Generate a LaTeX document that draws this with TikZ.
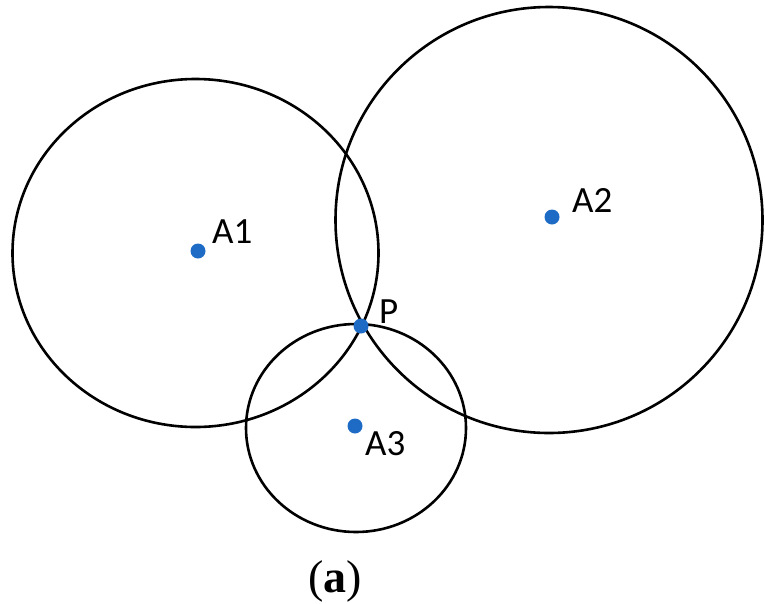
\documentclass[tikz,border=0pt]{standalone}
\usepackage{fontspec}
\setmainfont{Carlito}
\newfontfamily\capfont{Liberation Serif}
\definecolor{dotblue}{RGB}{30,107,198}
\begin{document}
\begin{tikzpicture}[x=1pt,y=-1pt,
  ring/.style={draw=black,line width=2.6pt},
  dot/.style={circle,fill=dotblue,inner sep=0pt,minimum size=15pt},
  lab/.style={anchor=base west,inner sep=0pt,font=\fontsize{37}{40}\selectfont}]
\useasboundingbox (0,0) rectangle (765,603);
% circles
\draw[ring] (195.5,253) ellipse [x radius=183, y radius=174];
\draw[ring] (549,220) ellipse [x radius=213.5, y radius=213];
\draw[ring] (356,428) ellipse [x radius=110, y radius=104];
% points
\node[dot] (A1) at (198,251) {};
\node[dot] (A2) at (552,217) {};
\node[dot] (A3) at (355,426) {};
\node[dot] (P) at (361,326) {};
% labels
\node[lab] (lA1) at (212,243) {A1};
\node[lab] (lA2) at (572,212) {A2};
\node[lab] (lA3) at (365,455) {A3};
\node[lab] (lP) at (379,323) {P};
\node[anchor=base,inner sep=0pt,font=\capfont\fontsize{46}{50}\selectfont] (cap) at (335,592) {(\textbf{a})};
\end{tikzpicture}
\end{document}
